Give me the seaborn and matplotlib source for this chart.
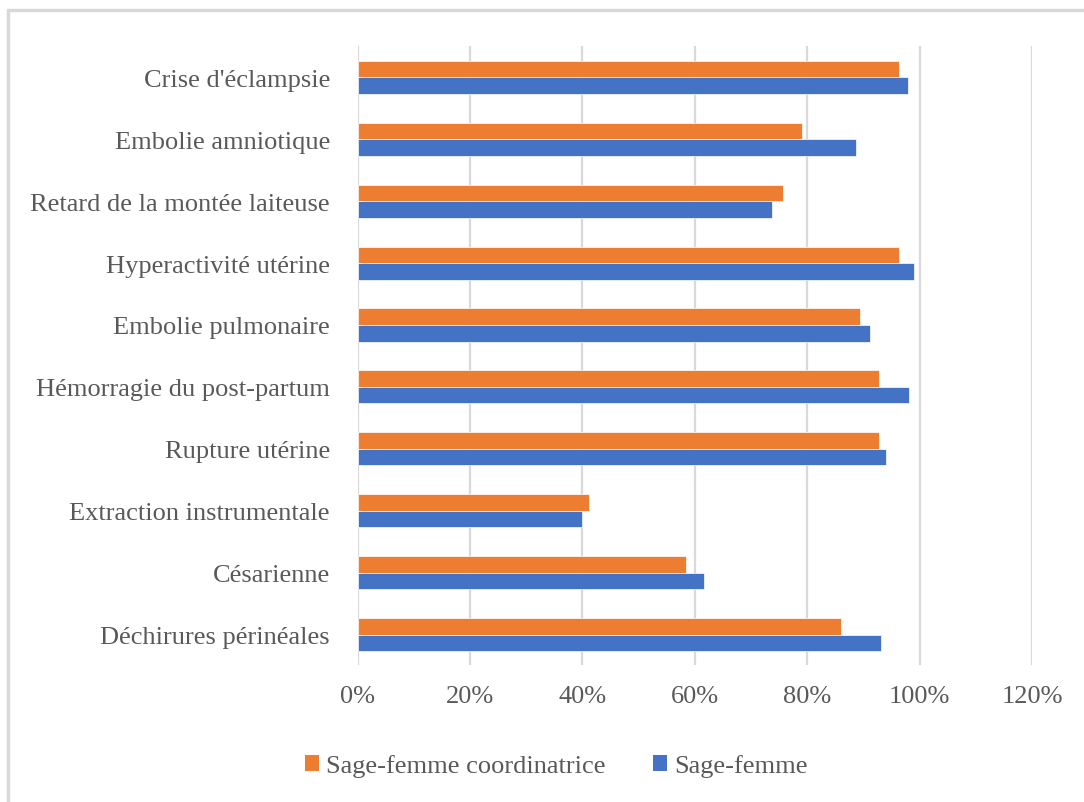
"""
Complications obstétricales : taux de réponse par profil (sage-femme vs coordinatrice).

Produces:
  out.png
"""

import matplotlib.pyplot as plt
import pandas as pd
import seaborn as sns
from matplotlib.lines import Line2D
from matplotlib.patches import Patch
from matplotlib.ticker import FuncFormatter

CATEGORIES = [
    "Crise d'éclampsie",
    "Embolie amniotique",
    "Retard de la montée laiteuse",
    "Hyperactivité utérine",
    "Embolie pulmonaire",
    "Hémorragie du post-partum",
    "Rupture utérine",
    "Extraction instrumentale",
    "Césarienne",
    "Déchirures périnéales",
]
SERIES = ["Sage-femme coordinatrice", "Sage-femme"]
COORDINATRICE = [96.4, 79.0, 75.7, 96.4, 89.4, 92.8, 92.8, 41.2, 58.4, 86.1]
SAGE_FEMME = [98.0, 88.6, 73.8, 99.0, 91.1, 98.2, 94.1, 40.0, 61.6, 93.1]
X_TICKS = [0, 20, 40, 60, 80, 100, 120]

COLORS = {"Sage-femme coordinatrice": "#ED7D31", "Sage-femme": "#4472C4"}
TEXT_GREY = "#595959"
GRID_GREY = "#d9d9d9"

sns.set_theme(style="white")
plt.rcParams["font.family"] = ["Liberation Serif", "DejaVu Serif"]

df = pd.DataFrame({
    "Complication": CATEGORIES * 2,
    "Profil": [SERIES[0]] * len(CATEGORIES) + [SERIES[1]] * len(CATEGORIES),
    "Pourcentage": COORDINATRICE + SAGE_FEMME,
})

fig = plt.figure(figsize=(10.84, 8.03), dpi=100)
ax = fig.add_axes([0.330, 0.170, 0.622, 0.771])

sns.barplot(
    data=df, y="Complication", x="Pourcentage", hue="Profil",
    hue_order=SERIES, order=CATEGORIES, palette=COLORS, saturation=1,
    width=0.535, edgecolor="white", linewidth=0.5, ax=ax, legend=False,
)

ax.set_xlim(0, 120)
ax.set_xticks(X_TICKS)
ax.xaxis.set_major_formatter(FuncFormatter(lambda v, _: f"{v:.0f}%"))
ax.xaxis.grid(True, color=GRID_GREY, linewidth=1.6)
ax.yaxis.grid(False)
ax.set_axisbelow(True)
for side in ["top", "right", "bottom", "left"]:
    ax.spines[side].set_visible(False)

ax.set_xlabel("")
ax.set_ylabel("")
ax.tick_params(axis="x", length=0, pad=14, labelsize=19, labelcolor=TEXT_GREY)
ax.tick_params(axis="y", length=0, pad=20, labelsize=19, labelcolor=TEXT_GREY)

handles = [Patch(facecolor=COLORS[s], edgecolor="none", label=s) for s in SERIES]
fig.legend(
    handles=handles, loc="center", bbox_to_anchor=(0.513, 0.045), ncol=2,
    frameon=False, fontsize=19, labelcolor=TEXT_GREY,
    handlelength=0.55, handleheight=0.55, handletextpad=0.25, columnspacing=1.8,
)

# light chart-area border (only top and left visible in the original crop)
fig.add_artist(Line2D([0.0074, 1.0], [0.9863, 0.9863], transform=fig.transFigure,
                      color=GRID_GREY, linewidth=2.5))
fig.add_artist(Line2D([0.0074, 0.0074], [0.0, 0.9863], transform=fig.transFigure,
                      color=GRID_GREY, linewidth=2.5))

fig.savefig("out.png", dpi=100)
plt.close(fig)
